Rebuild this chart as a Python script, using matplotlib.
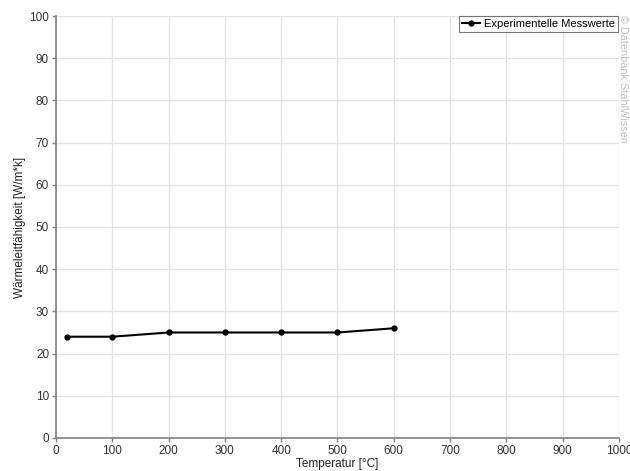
import matplotlib
matplotlib.use("Agg")
import matplotlib.pyplot as plt

temperature = [20, 100, 200, 300, 400, 500, 600]
conductivity = [24, 24, 25, 25, 25, 25, 26]
x_ticks = list(range(0, 1001, 100))
y_ticks = list(range(0, 101, 10))

plt.rcParams["font.family"] = ["Liberation Sans", "DejaVu Sans"]
plt.rcParams["font.size"] = 8.5

fig = plt.figure(figsize=(6.3, 4.71), dpi=100)
ax = fig.add_axes([0.0889, 0.0701, 0.8936, 0.8959])

ax.plot(temperature, conductivity, color="black", linewidth=1.5,
        marker="o", markersize=3.5, label="Experimentelle Messwerte")

ax.set_xlim(0, 1000)
ax.set_ylim(0, 100)
ax.set_xticks(x_ticks)
ax.set_yticks(y_ticks)
ax.grid(True, color="#e3e3e3", linewidth=0.9)
ax.set_axisbelow(True)

for side in ["top", "right"]:
    ax.spines[side].set_visible(False)
for side in ["left", "bottom"]:
    ax.spines[side].set_color("#808080")
    ax.spines[side].set_linewidth(1.2)
ax.tick_params(colors="#808080", labelcolor="#333333", length=3, width=1, pad=2)

ax.set_xlabel("Temperatur [°C]", color="#222222", labelpad=1)
ax.set_ylabel("Wärmeleitfähigkeit [W/m*k]", color="#222222", labelpad=2)

leg = ax.legend(loc="upper right", bbox_to_anchor=(0.9985, 0.9995), frameon=True,
                fancybox=False, borderpad=0.25, handlelength=1.6,
                handletextpad=0.4, borderaxespad=0, fontsize=8)
leg.get_frame().set_edgecolor("#555555")
leg.get_frame().set_linewidth(0.8)

fig.text(0.989, 0.968, "© Datenbank StahlWissen", rotation=-90,
         ha="center", va="top", color="#c0c0c0", fontsize=7.8)

fig.savefig("out.png", dpi=100)
